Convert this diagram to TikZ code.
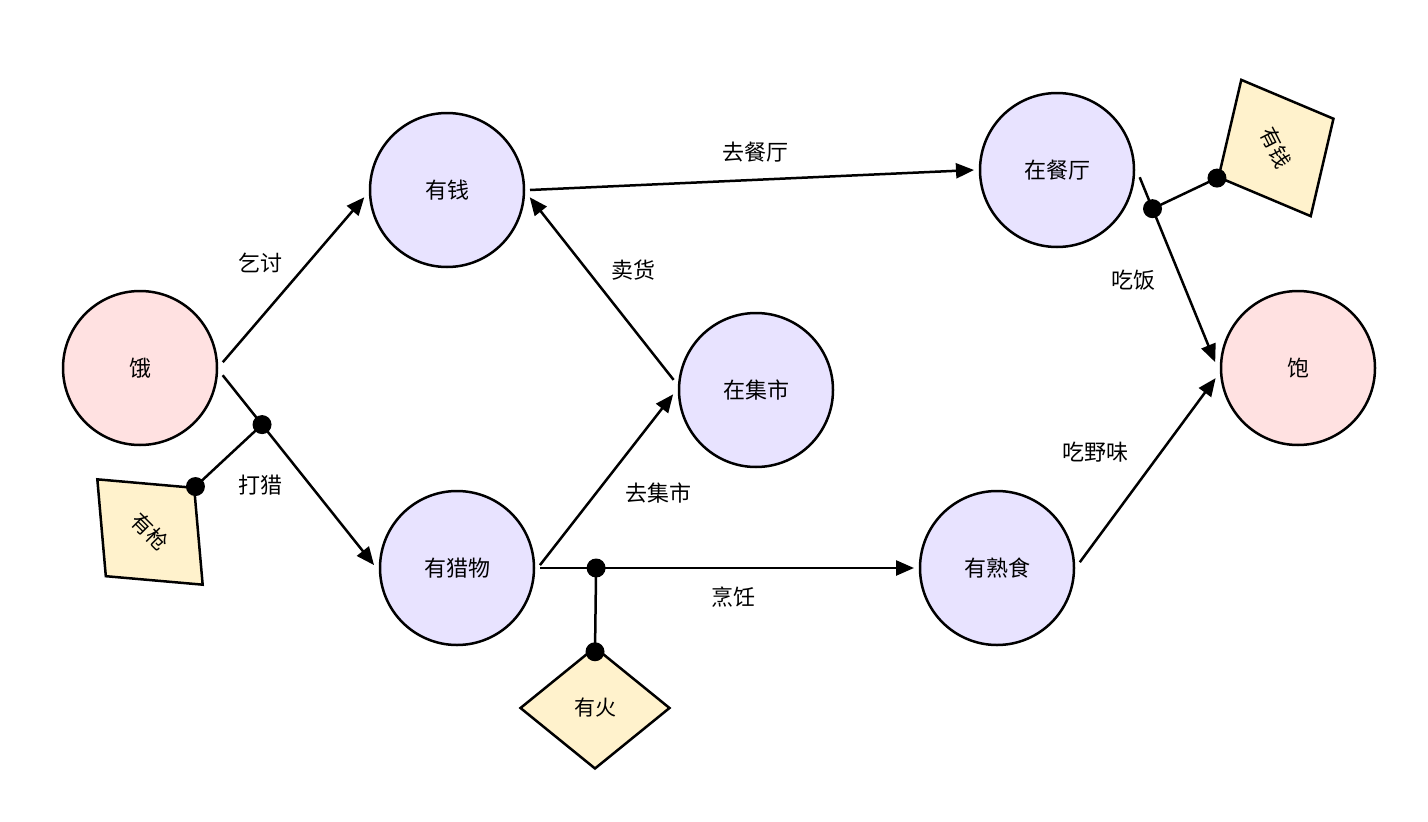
\documentclass[tikz,border=0pt]{standalone}
\usepackage{fontspec}
\setmainfont{Noto Sans CJK SC}
\usetikzlibrary{shapes.geometric,arrows.meta}
\definecolor{pinkf}{HTML}{FFE1E1}
\definecolor{lavf}{HTML}{E8E3FF}
\definecolor{yelf}{HTML}{FFF2CC}
\begin{document}
\begin{tikzpicture}[x=1pt,y=-1pt,
  st/.style={circle,draw=black,line width=2.5pt,minimum size=154pt,inner sep=0pt,outer sep=6pt,font=\fontsize{22}{26}\selectfont},
  pk/.style={st,fill=pinkf},
  lv/.style={st,fill=lavf},
  cond/.style={diamond,draw=black,line width=2.5pt,fill=yelf,inner sep=0pt,font=\fontsize{21}{24}\selectfont},
  ar/.style={line width=2.5pt,-{Triangle[length=18pt,width=15pt]}},
  ln/.style={line width=2.5pt},
  lb/.style={font=\fontsize{22}{26}\selectfont},
  dot/.style={circle,fill=black,minimum size=19pt,inner sep=0pt}]
\useasboundingbox (0,0) rectangle (1428,822);
\node[pk] (e) at (140,368) {饿};
\node[lv] (q) at (447,190) {有钱};
\node[lv] (l) at (457,568) {有猎物};
\node[lv] (m) at (756,390) {在集市};
\node[lv] (r) at (1057,170) {在餐厅};
\node[lv] (s) at (997,568) {有熟食};
\node[pk] (b) at (1298,368) {饱};
\node[cond,minimum width=150pt,minimum height=126pt,rotate=-45] (g) at (150,532) {有枪};
\node[cond,minimum width=150pt,minimum height=122pt] (h) at (595,708) {有火};
\node[cond,minimum width=154pt,minimum height=130pt,rotate=-63] (c) at (1276,148) {有钱};

\draw[ar] (e.4) -- (q.185);
\draw[ar] (e.-5) -- coordinate[pos=0.26] (j1) (l.178);
\draw[ar] (l.2) -- (m.183);
\draw[ar] (m.173) -- (q.-5);
\draw[ar] (q.0) -- (r.180);
\draw[ar] (r.-5) -- coordinate[pos=0.17] (j2) (b.176);
\draw[ar] (l.0) -- coordinate[pos=0.15] (j3) (s.180);
\draw[ar] (s.4) -- (b.187);

\coordinate (g1) at (g.north);
\coordinate (h1) at ([yshift=-6pt]h.north);
\coordinate (c1) at (c.south);
\draw[ln] (j1) -- (g1);
\draw[ln] (j3) -- (h1);
\draw[ln] (j2) -- (c1);
\foreach \p in {j1,j2,j3,g1,h1,c1} \node[dot] at (\p) {};

\node[lb] (t1) at (260,263) {乞讨};
\node[lb] (t2) at (260,485) {打猎};
\node[lb] (t3) at (658,493) {去集市};
\node[lb] (t4) at (633,270) {卖货};
\node[lb] (t5) at (755,152) {去餐厅};
\node[lb] (t6) at (1133,280) {吃饭};
\node[lb] (t7) at (733,597) {烹饪};
\node[lb] (t8) at (1095,452) {吃野味};
\end{tikzpicture}
\end{document}
